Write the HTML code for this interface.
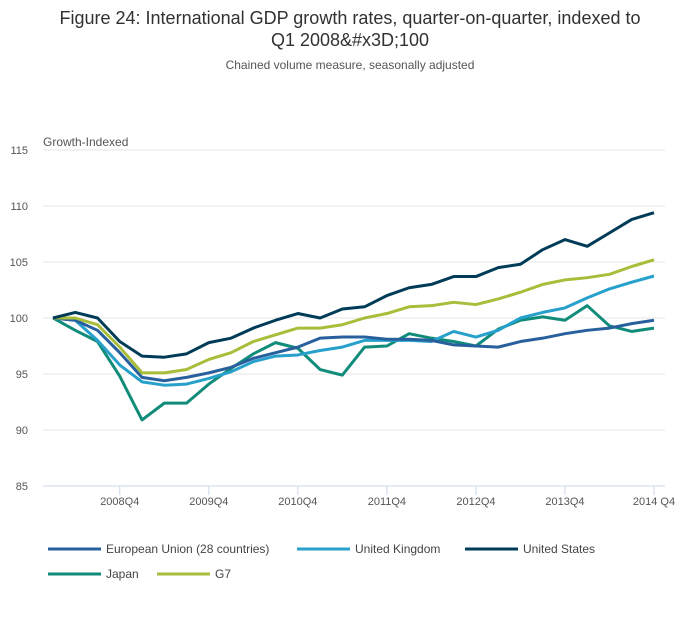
<!DOCTYPE html>
<html><head><meta charset="utf-8"><style>
body{margin:0;background:#fff;font-family:"Liberation Sans",sans-serif;}
</style></head><body>
<svg width="700" height="635" font-family="Liberation Sans, sans-serif">
<text x="350" y="24" text-anchor="middle" font-size="18" fill="#323132">Figure 24: International GDP growth rates, quarter-on-quarter, indexed to</text>
<text x="350" y="46" text-anchor="middle" font-size="18" fill="#323132">Q1 2008&amp;#x3D;100</text>
<text x="350" y="69" text-anchor="middle" font-size="12" fill="#555">Chained volume measure, seasonally adjusted</text>
<text x="43" y="146" font-size="12" fill="#555">Growth-Indexed</text>
<g id="grid"></g><g id="ticks"></g><g id="lines"></g>
<g id="legend"></g>
</svg>
<script>
const quarters=28;
const yTicks=[85,90,95,100,105,110,115];
const xLabels=["2008Q4","2009Q4","2010Q4","2011Q4","2012Q4","2013Q4","2014 Q4"];
const xLabelIdx=[3,7,11,15,19,23,27];
const seriesNames=["European Union (28 countries)","United Kingdom","United States","Japan","G7"];
const seriesColors=["#27609c","#27a0cc","#003c57","#118c7b","#a8bd3a"];
const eu=[100,99.8,98.9,96.9,94.7,94.4,94.7,95.1,95.6,96.4,96.9,97.4,98.2,98.3,98.3,98.1,98.1,98,97.6,97.5,97.4,97.9,98.2,98.6,98.9,99.1,99.5,99.8];
const uk=[100,99.8,98,95.8,94.3,94,94.1,94.6,95.2,96.1,96.6,96.7,97.1,97.4,98,98,98,97.9,98.8,98.3,98.9,100,100.5,100.9,101.8,102.6,103.2,103.75];
const us=[100,100.5,100,97.9,96.6,96.5,96.8,97.8,98.2,99.1,99.8,100.4,100,100.8,101,102,102.7,103,103.7,103.7,104.5,104.8,106.1,107,106.4,107.6,108.8,109.4];
const japan=[100,98.9,97.9,94.8,90.9,92.4,92.4,94.1,95.5,96.8,97.8,97.3,95.4,94.9,97.4,97.5,98.6,98.2,97.9,97.5,99.0,99.8,100.1,99.8,101.1,99.3,98.8,99.1];
const g7=[100,100,99.4,97.4,95.1,95.1,95.4,96.3,96.9,97.9,98.5,99.1,99.1,99.4,100,100.4,101,101.1,101.4,101.2,101.7,102.3,103,103.4,103.6,103.9,104.6,105.2];
const allSeries=[eu,uk,us,japan,g7];
const NS="http://www.w3.org/2000/svg";
const x=i=>53+i*(654-53)/(quarters-1);
const y=v=>486-(v-85)*(336/30);
function mk(t,a,p){const e=document.createElementNS(NS,t);for(const k in a)e.setAttribute(k,a[k]);p.appendChild(e);return e;}
const grid=document.getElementById('grid');
yTicks.forEach(v=>{
 const l=mk('line',{x1:43,x2:665,y1:y(v),y2:y(v),stroke:v===85?'#ccd6eb':'#e6e6e6','stroke-width':1},grid);
 
 
 const t=mk('text',{x:28,y:y(v)+4,'font-size':11,fill:'#555','text-anchor':'end'},grid);t.textContent=v;
 
 
});
const ticks=document.getElementById('ticks');
xLabels.forEach((s,k)=>{
 const t=mk('text',{x:x(xLabelIdx[k]),y:505,'font-size':11,fill:'#555','text-anchor':'middle'},ticks);t.textContent=s;
 
 
 const tk=mk('line',{x1:x(xLabelIdx[k]),x2:x(xLabelIdx[k]),y1:486,y2:495,stroke:'#ccd6eb'},ticks);
 
 
});
const lines=document.getElementById('lines');
[3,1,0,4,2].forEach(s=>{
 const p=mk('polyline',{points:allSeries[s].map((v,i)=>x(i)+','+y(v)).join(' '),fill:'none',stroke:seriesColors[s],'stroke-width':3,'stroke-linejoin':'round'},lines);
 
 
});
const leg=document.getElementById('legend');
const lpos=[[48,549],[297,549],[465,549],[48,574],[157,574]];
seriesNames.forEach((n,s)=>{
 const g=mk('g',{},leg);
 
 
 mk('line',{x1:lpos[s][0],x2:lpos[s][0]+53,y1:lpos[s][1],y2:lpos[s][1],stroke:seriesColors[s],'stroke-width':3},g);
 const t=mk('text',{x:lpos[s][0]+58,y:lpos[s][1]+4,'font-size':12,fill:'#444'},g);t.textContent=n;
});
</script>
</body></html>
